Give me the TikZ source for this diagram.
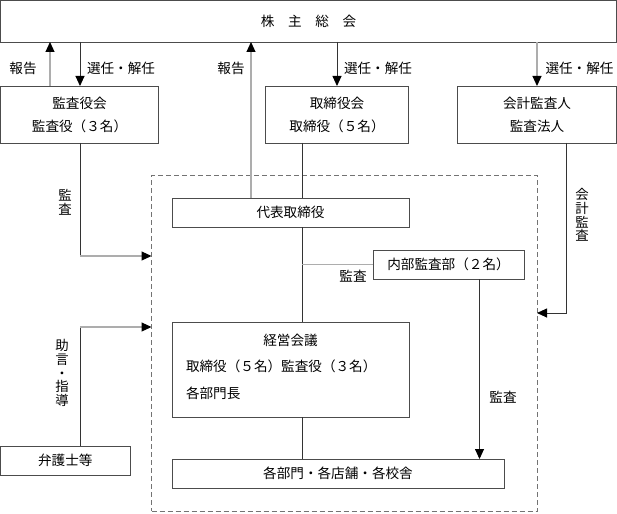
\documentclass[tikz,border=0pt]{standalone}
\usepackage{fontspec}
\setmainfont{Noto Sans CJK JP}
\usetikzlibrary{arrows.meta}
\definecolor{boxc}{gray}{0.3}
\definecolor{dlc}{gray}{0.2}
\definecolor{glc}{gray}{0.68}
\begin{document}
\begin{tikzpicture}[x=1pt,y=-1pt,
  every node/.style={font=\fontsize{13.6pt}{23pt}\selectfont, inner sep=0pt, outer sep=0pt},
  box/.style={draw=boxc, line width=0.9pt, align=center},
  dline/.style={draw=dlc, line width=0.9pt},
  gline/.style={draw=glc, line width=1.1pt},
  arr/.style={-{Triangle[length=10pt,width=9pt,color=black]}},
  vlab/.style={align=center, font=\fontsize{13.4pt}{13.6pt}\selectfont}]
\fill[white] (0,0) rectangle (617,513);
\useasboundingbox (0,0) rectangle (617,513);

% dashed frame
\node[draw=black!55, line width=0.9pt, dash pattern=on 5pt off 3pt, minimum width=385.5pt, minimum height=336pt] (dash) at (344.25,343) {};

% boxes
\node[box, minimum width=616pt, minimum height=41.5pt] (gm) at (308.5,21.25) {株　主　総　会};
\node[box, minimum width=158pt, minimum height=57pt] (kansa) at (79.5,114.5) {監査役会\\監査役（３名）};
\node[box, minimum width=143pt, minimum height=57pt] (tori) at (337,114.5) {取締役会\\取締役（５名）};
\node[box, minimum width=159pt, minimum height=57pt] (kaikei) at (537,114.5) {会計監査人\\監査法人};
\node[box, minimum width=237pt, minimum height=29pt] (daihyo) at (290.5,212.5) {代表取締役};
\node[box, minimum width=151pt, minimum height=29pt] (naibu) at (448.5,264.5) {内部監査部（２名）};
\node[box, minimum width=237pt, minimum height=95pt] (keiei) at (290.5,369.5) {};
\node (keiei1) at (290.5,340.7) {経営会議};
\node[anchor=west] (keiei2) at (186,366.7) {取締役（５名）監査役（３名）};
\node[anchor=west] (keiei3) at (186,393) {各部門長};
\node[box, minimum width=332pt, minimum height=29pt] (kakubu) at (338,473.5) {各部門・各店舗・各校舎};
\node[box, minimum width=129.5pt, minimum height=29pt] (bengo) at (65.25,460.5) {弁護士等};

% helper coordinates
\coordinate (xA) at (50,0);
\coordinate (xB) at (80,0);
\coordinate (xC) at (251,0);
\coordinate (xD) at (302,0);
\coordinate (xE) at (479.5,0);
\coordinate (xF) at (566,0);
\coordinate (yA) at (0,256);
\coordinate (yB) at (0,327);
\coordinate (yC) at (0,313);

% connectors
\draw[gline,arr] (kansa.north -| xA) -- (gm.south -| xA);
\draw[dline,arr] (gm.south -| xB) -- (kansa.north -| xB);
\draw[gline,arr] (daihyo.north -| xC) -- (gm.south -| xC);
\draw[dline,arr] (gm.south -| tori) -- (tori.north);
\draw[gline,arr] (gm.south -| kaikei) -- (kaikei.north);
\draw[dline] (tori.south -| xD) -- (daihyo.north -| xD);
\draw[dline] (kansa.south -| xB) -- (xB |- yA) coordinate (c1);
\draw[gline,arr] (c1) -- (dash.west |- yA);
\draw[dline,arr] (kaikei.south -| xF) |- (dash.east |- yC);
\draw[dline] (daihyo.south -| xD) -- (keiei.north -| xD);
\draw[gline] (xD |- naibu.west) -- (naibu.west);
\draw[dline,arr] (naibu.south -| xE) -- (kakubu.north -| xE);
\draw[dline] (keiei.south -| xD) -- (kakubu.north -| xD);
\draw[dline] (bengo.north -| xB) -- (xB |- yB) coordinate (c2);
\draw[gline,arr] (c2) -- (dash.west |- yB);

% labels
\node (l1) at (23,68) {報告};
\node (l2) at (121,68) {選任・解任};
\node (l3) at (231,68) {報告};
\node (l4) at (378,68) {選任・解任};
\node (l5) at (579.5,68) {選任・解任};
\node[vlab] (l6) at (65,202) {監\\査};
\node[vlab] (l7) at (582,215) {会\\計\\監\\査};
\node (l8) at (353,276) {監査};
\node (l9) at (503,397) {監査};
\node[vlab] (l10) at (62,373) {助\\言\\・\\指\\導};
\end{tikzpicture}
\end{document}
